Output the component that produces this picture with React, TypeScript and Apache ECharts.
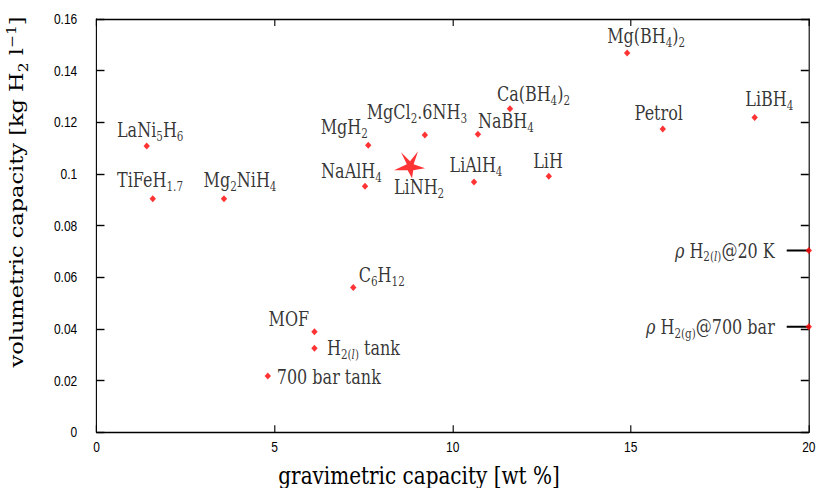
import React, { useEffect, useRef } from 'react';
import * as echarts from 'echarts';

// ---- data ----
const materials = [
  'LaNi5H6', 'TiFeH1.7', 'Mg2NiH4', 'MgH2', 'NaAlH4', 'MgCl2.6NH3', 'NaBH4',
  'Ca(BH4)2', 'Mg(BH4)2', 'Petrol', 'LiBH4', 'LiAlH4', 'LiH', 'C6H12', 'MOF',
  'H2(l) tank', '700 bar tank',
];
const gravimetric = [
  1.41, 1.58, 3.58, 7.63, 7.54, 9.22, 10.71, 11.61, 14.9, 15.9, 18.48, 10.6, 12.7,
  7.21, 6.12, 6.12, 4.81,
];
const volumetric = [
  0.1108, 0.0904, 0.0904, 0.1111, 0.0953, 0.1151, 0.1154, 0.1253, 0.1468, 0.1174,
  0.1219, 0.0969, 0.0991, 0.0561, 0.0389, 0.0325, 0.0218,
];
// rich-text markup of the names (subscripts)
const markup = [
  'LaNi{s|5}H{s|6}', 'TiFeH{s|1.7}', 'Mg{s|2}NiH{s|4}', 'MgH{s|2}', 'NaAlH{s|4}',
  'MgCl{s|2}.6NH{s|3}', 'NaBH{s|4}', 'Ca(BH{s|4}){s|2}', 'Mg(BH{s|4}){s|2}', 'Petrol',
  'LiBH{s|4}', 'LiAlH{s|4}', 'LiH', 'C{s|6}H{s|12}', 'MOF', 'H{s|2(}{si|l}{s|)} tank',
  '700 bar tank',
];
// label placement (pixel offsets of the label centre from the marker)
const labelOffsets: [number, number][] = [
  [4.4, -16.5], [-3.4, -19], [20, -19], [-30, -18.2], [-16.9, -15.5], [-10, -22.9],
  [35, -13.5], [29.4, -14.8], [23.75, -17.5], [-5, -16.5], [18.4, -18.1], [2.5, -16.9],
  [-0.9, -15], [35.6, -12.1], [-31.9, -12.5], [61.25, -0.5], [76.25, 0.8],
];

const starName = 'LiNH2';
const starMarkup = 'LiNH{s|2}';
const starPoint: [number, number] = [8.79, 0.1036];

const refNames = ['ρ H2(l)@20 K', 'ρ H2(g)@700 bar'];
const refMarkup = ['{i|ρ} H{s|2(}{si|l}{s|)}@20 K', '{i|ρ} H{s|2(g)}@700 bar'];
const refGravimetric = [20, 20];
const refVolumetric = [0.0704, 0.0409];
const refLineStart = 19.38;

const xTitle = 'gravimetric capacity [wt %]';
const yTitle = 'volumetric capacity [kg H{s|2} l{p|−1}]';

// the reference is drawn horizontally condensed
const SQUEEZE = 0.8;
const W = 821 / SQUEEZE;
const H = 488;

const serif = '"DejaVu Serif", serif';
const sans = '"Liberation Sans", Arial, sans-serif';

const rich = {
  s: { fontSize: 13, lineHeight: 16, verticalAlign: 'bottom', fontFamily: serif, color: '#000' },
  si: { fontSize: 13, lineHeight: 16, verticalAlign: 'bottom', fontFamily: serif, fontStyle: 'italic', color: '#000' },
  i: { fontSize: 20, lineHeight: 26, fontFamily: serif, fontStyle: 'italic', color: '#000' },
};

const starPath =
  'path://M8.75,1 L20,10 L30,0 L24.5,13 L38.75,17 L24,19 L22.5,27 L17,19 L0,19 L16,13 Z';

export default function App() {
  const ref = useRef<HTMLDivElement>(null);

  useEffect(() => {
    document.body.style.margin = '0';
    const chart = echarts.init(ref.current!, null, { renderer: 'svg' });

    const axisLine = { show: true, onZero: false, lineStyle: { color: '#000', width: 1.4 } };

    const option: any = {
      animation: false,
      backgroundColor: '#fff',
      grid: { left: 120.6, right: W - 1011.25, top: 19, bottom: H - 432.3, containLabel: false },
      xAxis: [
        {
          type: 'value',
          position: 'bottom',
          min: 0,
          max: 20,
          interval: 5,
          axisLine,
          axisTick: { show: true, inside: true, length: 7, lineStyle: { color: '#000', width: 1.4 } },
          splitLine: { show: false },
          axisLabel: { margin: 7, fontFamily: sans, fontSize: 15, color: '#000' },
        },
        {
          type: 'value',
          position: 'top',
          min: 0,
          max: 20,
          interval: 5,
          axisLine,
          axisTick: { show: true, inside: true, length: 7, lineStyle: { color: '#000', width: 1.4 } },
          splitLine: { show: false },
          axisLabel: { show: false },
        },
      ],
      yAxis: [
        {
          type: 'value',
          position: 'left',
          min: 0,
          max: 0.16,
          interval: 0.02,
          axisLine,
          axisTick: { show: true, inside: true, length: 10, lineStyle: { color: '#000', width: 1.4 } },
          splitLine: { show: false },
          axisLabel: { margin: 24, fontFamily: sans, fontSize: 15, color: '#000' },
        },
        {
          type: 'value',
          position: 'right',
          min: 0,
          max: 0.16,
          interval: 0.02,
          axisLine,
          axisTick: { show: true, inside: true, length: 10, lineStyle: { color: '#000', width: 1.4 } },
          splitLine: { show: false },
          axisLabel: { show: false },
        },
      ],
      graphic: [
        {
          type: 'text',
          x: 523.75,
          y: 475,
          style: {
            text: xTitle,
            fontFamily: serif,
            fontSize: 25,
            fill: '#000',
            align: 'center',
            verticalAlign: 'middle',
          },
        },
        {
          type: 'text',
          x: 21.5,
          y: 192,
          rotation: Math.PI / 2,
          style: {
            text: yTitle,
            fontFamily: serif,
            fontSize: 22.5,
            lineHeight: 31,
            fill: '#000',
            align: 'center',
            verticalAlign: 'middle',
            rich: {
              s: { fontSize: 15.5, lineHeight: 18, verticalAlign: 'bottom', fontFamily: serif, fill: '#000' },
              p: { fontSize: 15.5, lineHeight: 18, verticalAlign: 'top', fontFamily: serif, fill: '#000' },
            },
          },
        },
      ],
      series: [
        ...refVolumetric.map((v, i) => ({
          type: 'line',
          name: refNames[i] + ' line',
          data: [
            [refLineStart, v],
            [refGravimetric[i], v],
          ],
          symbol: 'none',
          lineStyle: { color: '#000', width: 2 },
          z: 1,
          silent: true,
        })),
        {
          type: 'scatter',
          name: 'materials',
          symbol: 'diamond',
          symbolSize: [8, 7],
          itemStyle: { color: '#ff0000' },
          z: 3,
          label: {
            show: true,
            position: 'inside',
            align: 'center',
            verticalAlign: 'middle',
            fontFamily: serif,
            fontSize: 20,
            lineHeight: 26,
            color: '#000',
            rich,
          },
          data: materials.map((n, i) => ({
            name: n,
            value: [gravimetric[i], volumetric[i]],
            label: { formatter: markup[i], offset: labelOffsets[i] },
          })),
        },
        {
          type: 'scatter',
          name: starName,
          symbol: starPath,
          symbolSize: [38.75, 27],
          itemStyle: { color: '#ff0000' },
          z: 3,
          label: {
            show: true,
            position: 'inside',
            align: 'center',
            verticalAlign: 'middle',
            offset: [11.9, 22],
            fontFamily: serif,
            fontSize: 20,
            lineHeight: 26,
            color: '#000',
            rich,
            formatter: starMarkup,
          },
          data: [{ name: starName, value: starPoint }],
        },
        {
          type: 'scatter',
          name: 'reference densities',
          symbol: 'diamond',
          symbolSize: [8, 7],
          itemStyle: { color: '#ff0000' },
          z: 3,
          label: {
            show: true,
            position: 'left',
            distance: 38.5,
            fontFamily: serif,
            fontSize: 20,
            lineHeight: 26,
            color: '#000',
            rich,
          },
          data: refVolumetric.map((v, i) => ({
            name: refNames[i],
            value: [refGravimetric[i], v],
            label: { formatter: refMarkup[i] },
          })),
        },
      ],
    };

    chart.setOption(option);
    return () => chart.dispose();
  }, []);

  return (
    <div style={{ width: 821, height: H, overflow: 'hidden', position: 'relative' }}>
      <div
        ref={ref}
        style={{
          width: W,
          height: H,
          transform: `scaleX(${SQUEEZE})`,
          transformOrigin: '0 0',
        }}
      />
    </div>
  );
}
